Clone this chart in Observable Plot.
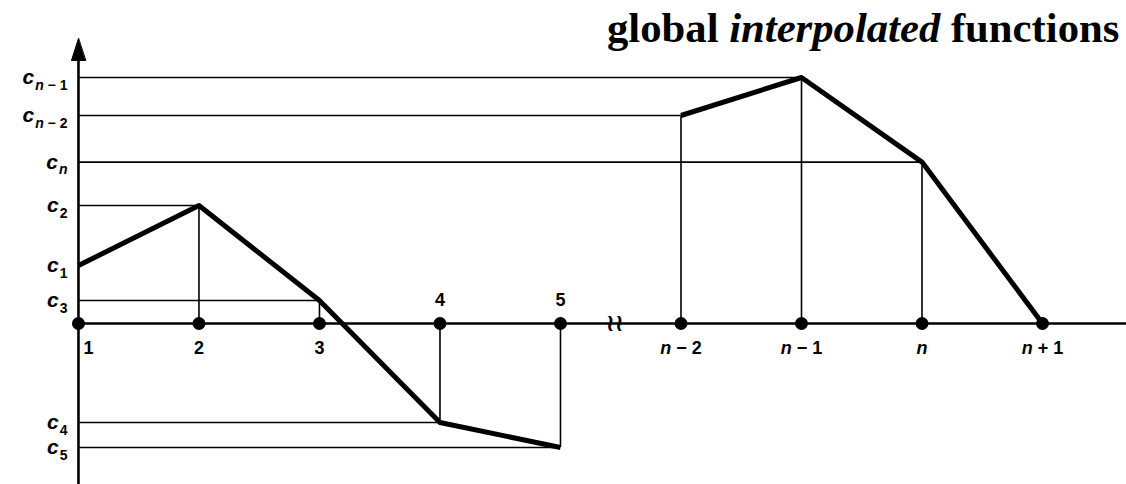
<!DOCTYPE html>
<html><head><meta charset="utf-8">
<script src="https://cdn.jsdelivr.net/npm/d3@7"></script>
<script src="https://cdn.jsdelivr.net/npm/@observablehq/plot@0.6"></script>
<style>
body{margin:0;background:#fff;}
#wrap{position:relative;width:1126px;height:484px;overflow:hidden;}
#title{position:absolute;left:607px;top:7px;font-family:"Liberation Serif",serif;font-weight:bold;font-size:42.7px;line-height:1;white-space:nowrap;color:#000;}
</style></head><body>
<div id="wrap"><div id="title">global <i>interpolated</i> functions</div></div>
<script>
// node labels on the horizontal axis (index = position)
const nodeLabels = ["1","2","3","4","5","n − 2","n − 1","n","n + 1"];
// function value c_i at each node (c_{n+1} = 0)
const nodeValues = [2.9, 5.9, 1.15, -4.95, -6.2, 10.4, 12.3, 8.07, 0];
// subscripts of level labels c_i on the vertical axis
const levelSubs = ["1","2","3","4","5","n − 2","n − 1","n"];
// which connected piece of the curve each node belongs to
const segments = [0,0,0,0,0,1,1,1,1];
// position of the axis break mark
const breakAt = 4.45;
// scale domains
const xDomain = [-0.647, 8.697];
const yDomain = [-8.05, 16.15];
const yAxisTop = 14.25;

const nodes = nodeLabels.map((label, i) => ({i, label, value: nodeValues[i], seg: segments[i], sub: levelSubs[i]}));
const levels = nodes.filter(d => d.sub !== undefined);
const inner = nodes.filter(d => d.i > 0 && d.sub !== undefined);

const arrowHead = {draw(ctx, l) { ctx.moveTo(0, -l); ctx.lineTo(-7, 0); ctx.lineTo(7, 0); ctx.closePath(); }};

const chart = Plot.plot({
  width: 1126, height: 484,
  marginTop: 0, marginRight: 0, marginBottom: 0, marginLeft: 0,
  style: {fontFamily: "Liberation Sans, Arial, sans-serif", fontWeight: "bold", background: "#fff", color: "#000"},
  x: {domain: xDomain, axis: null},
  y: {domain: yDomain, axis: null},
  marks: [
    // level lines and drop lines
    Plot.ruleY(inner, {y: "value", x1: () => 0, x2: "i", strokeWidth: 1.6}),
    Plot.ruleX(inner, {x: "i", y1: () => 0, y2: "value", strokeWidth: 1.6}),
    // axes
    Plot.ruleX([0], {x: d => d, y1: () => yDomain[0], y2: () => yAxisTop - 0.9, strokeWidth: 2.6}),
    Plot.vector([0], {x: d => d, y: () => yAxisTop, length: 22, anchor: "end", shape: arrowHead, fill: "black", stroke: "black", strokeWidth: 1}),
    Plot.ruleY([0], {y: d => d, x1: () => 0, x2: () => xDomain[1], strokeWidth: 2.4}),
    // curve
    Plot.line(nodes, {x: "i", y: "value", z: "seg", strokeWidth: 5, strokeLinejoin: "round", strokeLinecap: "butt"}),
    // nodes
    Plot.dot(nodes, {x: "i", y: () => 0, r: 6.5, fill: "black", stroke: "none"}),
    // break mark
    Plot.text([breakAt], {x: d => d, y: () => 0, text: () => "≀≀", fontSize: 24, fontFamily: "DejaVu Sans", fontWeight: "bold", letterSpacing: -5}),
    // node labels
    Plot.text(nodes.filter(d => d.i === 0), {x: "i", y: () => 0, text: "label", dy: 25, dx: 10, fontSize: 18, className: "nlabel"}),
    Plot.text(nodes.filter(d => d.i > 0 && d.value >= 0), {x: "i", y: () => 0, text: "label", dy: 25, fontSize: 18, className: "nlabel"}),
    Plot.text(nodes.filter(d => d.value < 0), {x: "i", y: () => 0, text: "label", dy: -23, fontSize: 18, className: "nlabel"}),
    // level labels
    Plot.text(levels, {x: () => 0, y: "value", text: d => "c_" + d.sub, textAnchor: "end", dx: -11, fontSize: 21, className: "clabel"})
  ]
});

const NS = "http://www.w3.org/2000/svg";
function addSpan(t, txt, attrs) {
  const s = document.createElementNS(NS, "tspan");
  s.textContent = txt;
  for (const k in attrs) s.setAttribute(k, attrs[k]);
  t.appendChild(s);
  return s;
}
function italicN(t, str, size, first) {
  // split on n so that the letter n is italic
  const parts = str.split(/(n)/).filter(p => p !== "");
  parts.forEach((p, k) => {
    const a = {};
    if (size) a["font-size"] = size;
    if (p === "n") a["font-style"] = "italic";
    if (k === 0 && first) Object.assign(a, first);
    addSpan(t, p, a);
  });
}
chart.querySelectorAll(".nlabel text").forEach(t => {
  const s = t.textContent; t.textContent = "";
  italicN(t, s, null, null);
});
chart.querySelectorAll(".clabel text").forEach(t => {
  const [base, sub] = t.textContent.split("_"); t.textContent = "";
  addSpan(t, base, {"font-style": "italic"});
  italicN(t, sub, 14, {dy: "0.38em", dx: "1"});
});
document.getElementById("wrap").prepend(chart);
</script>
</body></html>
